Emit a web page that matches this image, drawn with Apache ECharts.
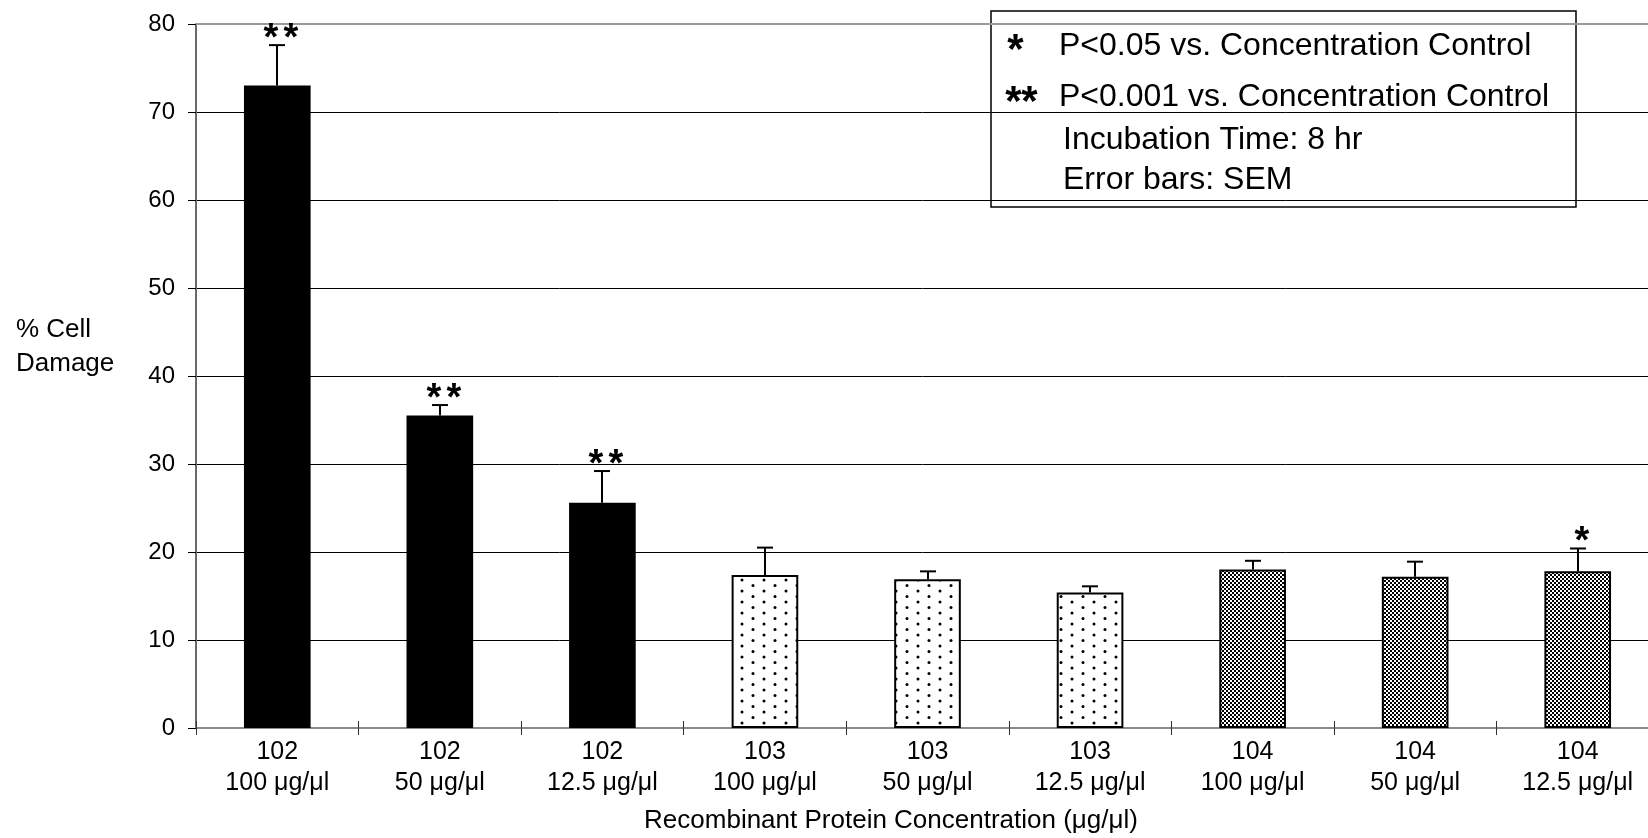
<!DOCTYPE html>
<html>
<head>
<meta charset="utf-8">
<script src="https://cdn.jsdelivr.net/npm/echarts@6/dist/echarts.min.js"></script>
<style>
  html, body { margin: 0; padding: 0; background: #fff; }
  #chart { width: 1648px; height: 838px; }
</style>
</head>
<body>
<div id="chart"></div>
<script>
// Recombinant protein cell-damage assay, 8 hr incubation
const proteins = ['102', '102', '102', '103', '103', '103', '104', '104', '104'];
const concentrations = ['100 μg/μl', '50 μg/μl', '12.5 μg/μl', '100 μg/μl', '50 μg/μl', '12.5 μg/μl', '100 μg/μl', '50 μg/μl', '12.5 μg/μl'];
const cellDamage = [73.0, 35.5, 25.6, 17.4, 16.9, 15.4, 18.0, 17.2, 17.8];
const sem = [4.6, 1.2, 3.6, 3.1, 0.9, 0.7, 1.0, 1.7, 2.6];
const significance = ['**', '**', '**', '', '', '', '', '', '*'];
const yMin = 0, yMax = 80, yStep = 10;
const yAxisTitle = ['% Cell', 'Damage'];
const xAxisTitle = 'Recombinant Protein Concentration (μg/μl)';
const noteLines = [
  ['*', 'P<0.05 vs. Concentration Control'],
  ['**', 'P<0.001 vs. Concentration Control'],
  ['', 'Incubation Time: 8 hr'],
  ['', 'Error bars: SEM']
];

const FONT = '"Liberation Sans", Arial, Helvetica, sans-serif';
const categories = proteins.map((p, i) => p + '\n' + concentrations[i]);

// Fill patterns per protein
function dotPattern() {
  const c = document.createElement('canvas');
  c.width = 22; c.height = 11;
  const g = c.getContext('2d');
  g.fillStyle = '#fff'; g.fillRect(0, 0, 22, 11);
  g.fillStyle = '#000';
  g.beginPath(); g.arc(5, 2.5, 1.5, 0, Math.PI * 2); g.fill();
  g.beginPath(); g.arc(16, 8, 1.5, 0, Math.PI * 2); g.fill();
  return c;
}
function checkerPattern() {
  const c = document.createElement('canvas');
  c.width = 4; c.height = 4;
  const g = c.getContext('2d');
  g.fillStyle = '#fff'; g.fillRect(0, 0, 4, 4);
  g.fillStyle = '#000';
  g.fillRect(0, 0, 2, 2);
  g.fillRect(2, 2, 2, 2);
  return c;
}
const fills = {
  '102': '#000',
  '103': { image: dotPattern(), repeat: 'repeat' },
  '104': { image: checkerPattern(), repeat: 'repeat' }
};

// Significance marks: each asterisk drawn separately so the pair is spaced evenly
function starElements(marks, cx, cy, font, pitch) {
  const chars = marks.split('');
  const start = cx - (chars.length - 1) * pitch / 2;
  return chars.map((ch, k) => ({
    type: 'text',
    x: start + k * pitch, y: cy,
    style: { text: ch, font: font, fill: '#000', align: 'center', verticalAlign: 'middle' }
  }));
}

const chart = echarts.init(document.getElementById('chart'), null, { renderer: 'canvas' });

const gridTop = 24, gridLeft = 196, gridHeight = 704, gridWidth = 1463;
const splitColors = [];
for (let v = yMin; v <= yMax; v += yStep) splitColors.push(v === yMax ? '#9a9a9a' : '#000');

const option = {
  animation: false,
  backgroundColor: '#fff',
  grid: {
    left: gridLeft, top: gridTop, width: gridWidth, height: gridHeight,
    containLabel: false, outerBoundsMode: 'none'
  },
  xAxis: [
    {
      type: 'category',
      data: categories,
      position: 'bottom',
      boundaryGap: true,
      axisLine: { lineStyle: { color: '#8a8a8a', width: 2 } },
      axisTick: { show: true, length: 7, lineStyle: { color: '#333', width: 1 } },
      axisLabel: { color: '#000', fontFamily: FONT, fontSize: 25, lineHeight: 31, margin: 9, interval: 0 },
      splitLine: { show: false }
    },
    {
      type: 'category',
      data: categories,
      position: 'bottom',
      boundaryGap: true,
      axisLine: { show: false },
      axisTick: { show: true, inside: true, length: 7, lineStyle: { color: '#333', width: 1 } },
      axisLabel: { show: false },
      splitLine: { show: false }
    },
    {
      type: 'category',
      data: categories,
      position: 'top',
      axisLine: { show: true, lineStyle: { color: '#9a9a9a', width: 2 } },
      axisTick: { show: false },
      axisLabel: { show: false },
      splitLine: { show: false }
    }
  ],
  yAxis: {
    type: 'value',
    min: yMin, max: yMax, interval: yStep,
    axisLine: { show: true, lineStyle: { color: '#6a6a6a', width: 2 } },
    axisTick: { show: true, length: 8, lineStyle: { color: '#000', width: 1 } },
    axisLabel: { color: '#000', fontFamily: FONT, fontSize: 24, margin: 21 },
    splitLine: { show: true, lineStyle: { color: splitColors, width: 1 } }
  },
  series: [
    {
      type: 'bar',
      xAxisIndex: 0,
      barWidth: '41%',
      data: cellDamage.map((v, i) => ({
        value: v,
        itemStyle: { color: fills[proteins[i]], borderColor: '#000', borderWidth: 2 }
      })),
      z: 2
    },
    {
      type: 'custom',
      xAxisIndex: 0,
      z: 3,
      data: cellDamage.map((v, i) => [i, v, v + sem[i]]),
      renderItem: function (params, api) {
        const i = api.value(0);
        const base = api.coord([i, api.value(1)]);
        const top = api.coord([i, api.value(2)]);
        const x = Math.round(base[0]);
        const children = [
          { type: 'line', shape: { x1: x, y1: base[1], x2: x, y2: top[1] }, style: { stroke: '#000', lineWidth: 2 } },
          { type: 'line', shape: { x1: x - 8, y1: top[1], x2: x + 8, y2: top[1] }, style: { stroke: '#000', lineWidth: 2 } }
        ];
        const star = significance[params.dataIndex];
        if (star) {
          starElements(star, x + 4, top[1] - 6, 'bold 38px ' + FONT, 20).forEach(e => children.push(e));
        }
        return { type: 'group', children: children };
      }
    }
  ],
  graphic: [
    // y-axis title
    { type: 'text', x: 16, y: 330, style: { text: yAxisTitle[0], font: '26px ' + FONT, fill: '#000', align: 'left', verticalAlign: 'middle' } },
    { type: 'text', x: 16, y: 364, style: { text: yAxisTitle[1], font: '26px ' + FONT, fill: '#000', align: 'left', verticalAlign: 'middle' } },
    // x-axis title
    { type: 'text', x: 891, y: 821, style: { text: xAxisTitle, font: '26px ' + FONT, fill: '#000', align: 'center', verticalAlign: 'middle' } },
    // notes box
    {
      type: 'group', z: 100,
      children: [
        { type: 'rect', shape: { x: 991, y: 11, width: 585, height: 196 }, style: { fill: '#fff', stroke: '#000', lineWidth: 1.5 } },
        ...starElements(noteLines[0][0], 1015.5, 51, 'bold 42px ' + FONT, 16),
        { type: 'text', x: 1059, y: 46, style: { text: noteLines[0][1], font: '32px ' + FONT, fill: '#000', align: 'left', verticalAlign: 'middle' } },
        ...starElements(noteLines[1][0], 1021.5, 103, 'bold 42px ' + FONT, 16),
        { type: 'text', x: 1059, y: 97, style: { text: noteLines[1][1], font: '32px ' + FONT, fill: '#000', align: 'left', verticalAlign: 'middle' } },
        { type: 'text', x: 1063, y: 140, style: { text: noteLines[2][1], font: '32px ' + FONT, fill: '#000', align: 'left', verticalAlign: 'middle' } },
        { type: 'text', x: 1063, y: 180, style: { text: noteLines[3][1], font: '32px ' + FONT, fill: '#000', align: 'left', verticalAlign: 'middle' } }
      ]
    }
  ]
};

chart.setOption(option);
</script>
</body>
</html>
